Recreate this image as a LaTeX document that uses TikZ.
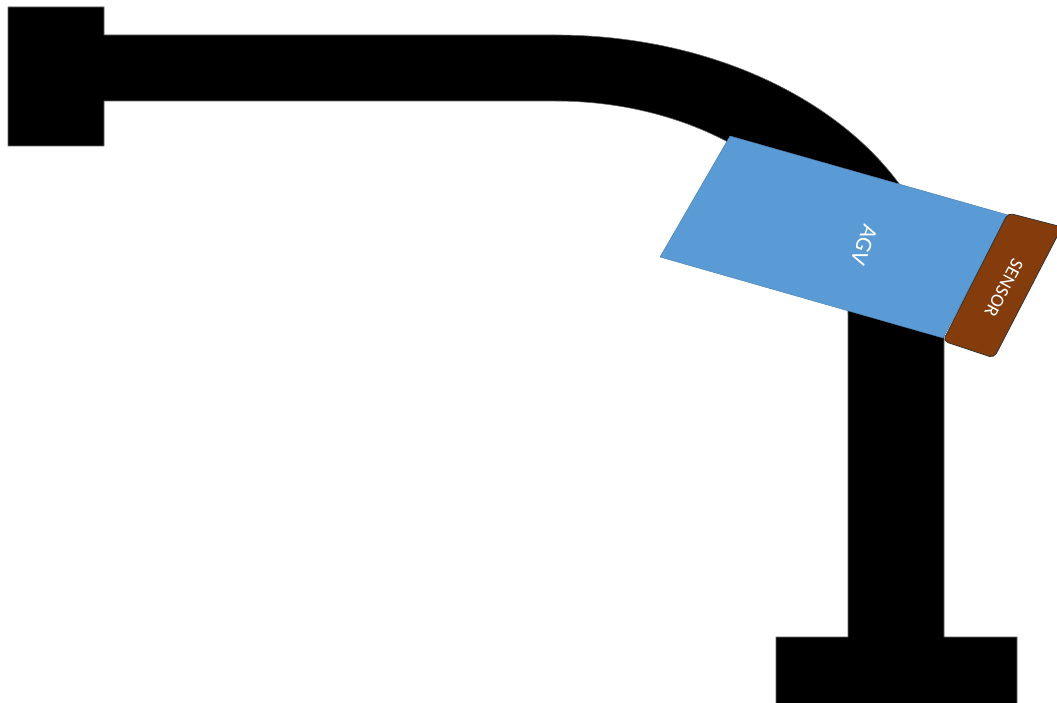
\documentclass[tikz,border=0pt]{standalone}
\usepackage{fontspec}
\setmainfont{Carlito}
\definecolor{agvblue}{HTML}{5B9BD5}
\definecolor{sensorbrown}{HTML}{843C0C}
\begin{document}
\begin{tikzpicture}[x=1pt,y=1pt,
  track/.style={fill=black,draw=black!60,line width=0.6pt},
  agvbody/.style={fill=agvblue,draw=agvblue!80!black,line width=0.4pt},
  sensorbody/.style={fill=sensorbrown,draw=black!80,line width=0.8pt,rounded corners=5pt},
  lbl/.style={text=white,inner sep=0pt}]
\useasboundingbox (0,0) rectangle (1057,702);
\clip (0,0) rectangle (1057,702);
% track
\path[track] (8,695) -- (104,695) -- (104,667) -- (555,667)
  arc[start angle=90,end angle=0,x radius=389pt,y radius=279pt]
  -- (944,65) -- (1017,65) -- (1017,-2) -- (776,-2) -- (776,65) -- (848,65) -- (848,388)
  arc[start angle=0,end angle=90,x radius=293pt,y radius=213pt]
  -- (104,601) -- (104,556) -- (8,556) -- cycle;
% AGV
\path[agvbody] (730,566) -- (1008,487) -- (943,364) -- (660,445) -- cycle;
\node[lbl,font=\fontsize{23}{25}\selectfont,rotate=-110] (agv) at (864,457) {AGV};
% sensor
\path[sensorbody] (1008,489) -- (1062,475) -- (994,344) -- (943,361) -- cycle;
\node[lbl,font=\fontsize{19}{21}\selectfont,rotate=-118] (sensor) at (1004,414) {SENSOR};
\end{tikzpicture}
\end{document}
